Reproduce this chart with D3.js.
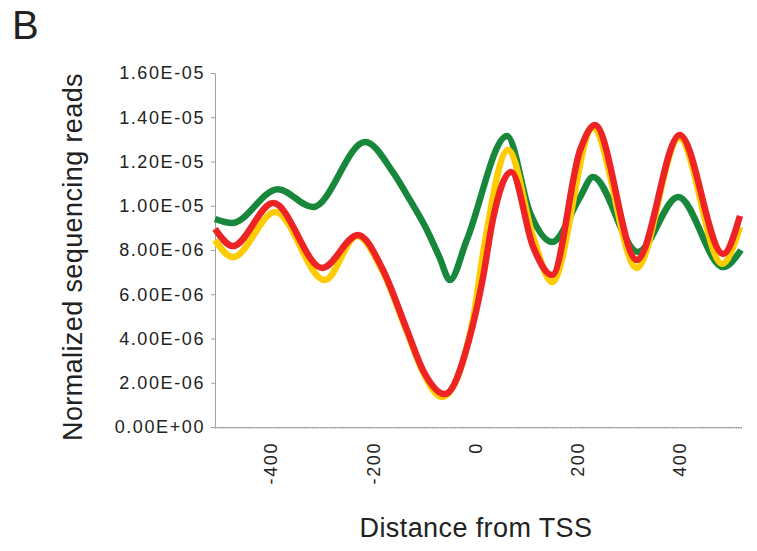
<!DOCTYPE html>
<html>
<head>
<meta charset="utf-8">
<script src="https://cdn.jsdelivr.net/npm/d3@7"></script>
<style>
  body { margin: 0; background: #fff; }
  text { font-family: "Liberation Sans", Arial, sans-serif; fill: #222; }
</style>
</head>
<body>
<svg width="757" height="551"></svg>
<script>
// distance from TSS (bp) and normalized reads
var greenPos = [-510, -477, -387, -318, -216, -161, -128, -96, -70, -50, -17, 62, 107, 150, 205, 230, 318, 397, 485, 520];
var greenVals = [9.40e-6, 9.22e-6, 10.75e-6, 9.94e-6, 12.88e-6, 11.50e-6, 10.25e-6, 8.95e-6, 7.65e-6, 6.64e-6, 8.45e-6, 13.15e-6, 9.67e-6, 8.36e-6, 10.40e-6, 11.30e-6, 7.91e-6, 10.40e-6, 7.23e-6, 8.0e-6];

var yellowPos = [-510, -475, -392, -295, -232, -181, -134, -103, -66, -5, 15, 64, 113, 150, 230, 316, 399, 483, 518];
var yellowVals = [8.45e-6, 7.68e-6, 9.72e-6, 6.64e-6, 8.63e-6, 7.00e-6, 4.29e-6, 2.49e-6, 1.36e-6, 4.84e-6, 7.86e-6, 12.52e-6, 8.59e-6, 6.55e-6, 13.51e-6, 7.19e-6, 13.06e-6, 7.37e-6, 9.04e-6];

var redPos = [-510, -475, -396, -300, -230, -181, -134, -103, -60, -11, 15, 34, 70, 113, 150, 205, 234, 316, 400, 485, 518];
var redVals = [8.95e-6, 8.18e-6, 10.12e-6, 7.19e-6, 8.68e-6, 7.10e-6, 4.38e-6, 2.58e-6, 1.49e-6, 4.07e-6, 6.78e-6, 9.36e-6, 11.53e-6, 8.14e-6, 6.87e-6, 12.52e-6, 13.65e-6, 7.55e-6, 13.20e-6, 7.82e-6, 9.54e-6];

var xTickVals = [-400, -200, 0, 200, 400];
var yTickVals = [0, 2e-6, 4e-6, 6e-6, 8e-6, 10e-6, 12e-6, 14e-6, 16e-6];

var series = [
  { pos: greenPos, vals: greenVals, color: '#17873b' },
  { pos: yellowPos, vals: yellowVals, color: '#ffcc00' },
  { pos: redPos, vals: redVals, color: '#ee2424' }
];

function sciLabel(v) {
  var s = v.toExponential(2).toUpperCase();
  var parts = s.split('E');
  var exp = parseInt(parts[1], 10);
  var sign = exp < 0 ? '-' : '+';
  var e = Math.abs(exp);
  return parts[0] + 'E' + sign + (e < 10 ? '0' + e : e);
}

var svg = d3.select('svg');
var x = d3.scaleLinear().domain([-510, 520]).range([215, 741]);
var y = d3.scaleLinear().domain([0, 16e-6]).range([427, 73]);

// panel letter
svg.append('text')
  .attr('x', 12)
  .attr('y', 39)
  .style('font-size', '40px')
  .text('B');

// y axis
var yAxis = svg.append('g')
  .attr('transform', 'translate(215,0)')
  .call(d3.axisLeft(y).tickValues(yTickVals).tickSize(4).tickPadding(6).tickFormat(sciLabel));
yAxis.select('.domain').attr('stroke', '#a0a0a0');
yAxis.selectAll('.tick line').attr('stroke', '#a0a0a0');
yAxis.selectAll('.tick text')
  .style('font-size', '18px')
  .style('letter-spacing', '1.6px')
  .attr('fill', '#222');

// x axis with dense minor ticks
var xAxis = svg.append('g')
  .attr('transform', 'translate(0,427)')
  .call(d3.axisBottom(x).tickValues(d3.range(-510, 521, 5)).tickSize(2).tickSizeOuter(0).tickFormat(''));
xAxis.select('.domain').attr('stroke', '#a0a0a0');
xAxis.selectAll('.tick line').attr('stroke', '#b0b0b0');

svg.append('g')
  .selectAll('text')
  .data(xTickVals)
  .enter()
  .append('text')
  .attr('transform', function (d) {
    return 'translate(' + x(d) + ',442) rotate(-90)';
  })
  .attr('dy', '0.35em')
  .attr('text-anchor', 'end')
  .style('font-size', '18px')
  .style('letter-spacing', '1.6px')
  .text(function (d) { return d; });

// axis titles
svg.append('text')
  .attr('transform', 'translate(82,257) rotate(-90)')
  .attr('text-anchor', 'middle')
  .style('font-size', '27px')
  .style('letter-spacing', '0.4px')
  .text('Normalized sequencing reads');

svg.append('text')
  .attr('x', 476)
  .attr('y', 537)
  .attr('text-anchor', 'middle')
  .style('font-size', '27px')
  .style('letter-spacing', '0.4px')
  .text('Distance from TSS');

// lines
var line = d3.line()
  .x(function (d) { return x(d[0]); })
  .y(function (d) { return y(d[1]); })
  .curve(d3.curveMonotoneX);

svg.append('g')
  .selectAll('path')
  .data(series)
  .enter()
  .append('path')
  .attr('d', function (s) {
    return line(d3.zip(s.pos, s.vals));
  })
  .attr('fill', 'none')
  .attr('stroke', function (s) { return s.color; })
  .attr('stroke-width', 6.5)
  .attr('stroke-linejoin', 'round');
</script>
</body>
</html>
